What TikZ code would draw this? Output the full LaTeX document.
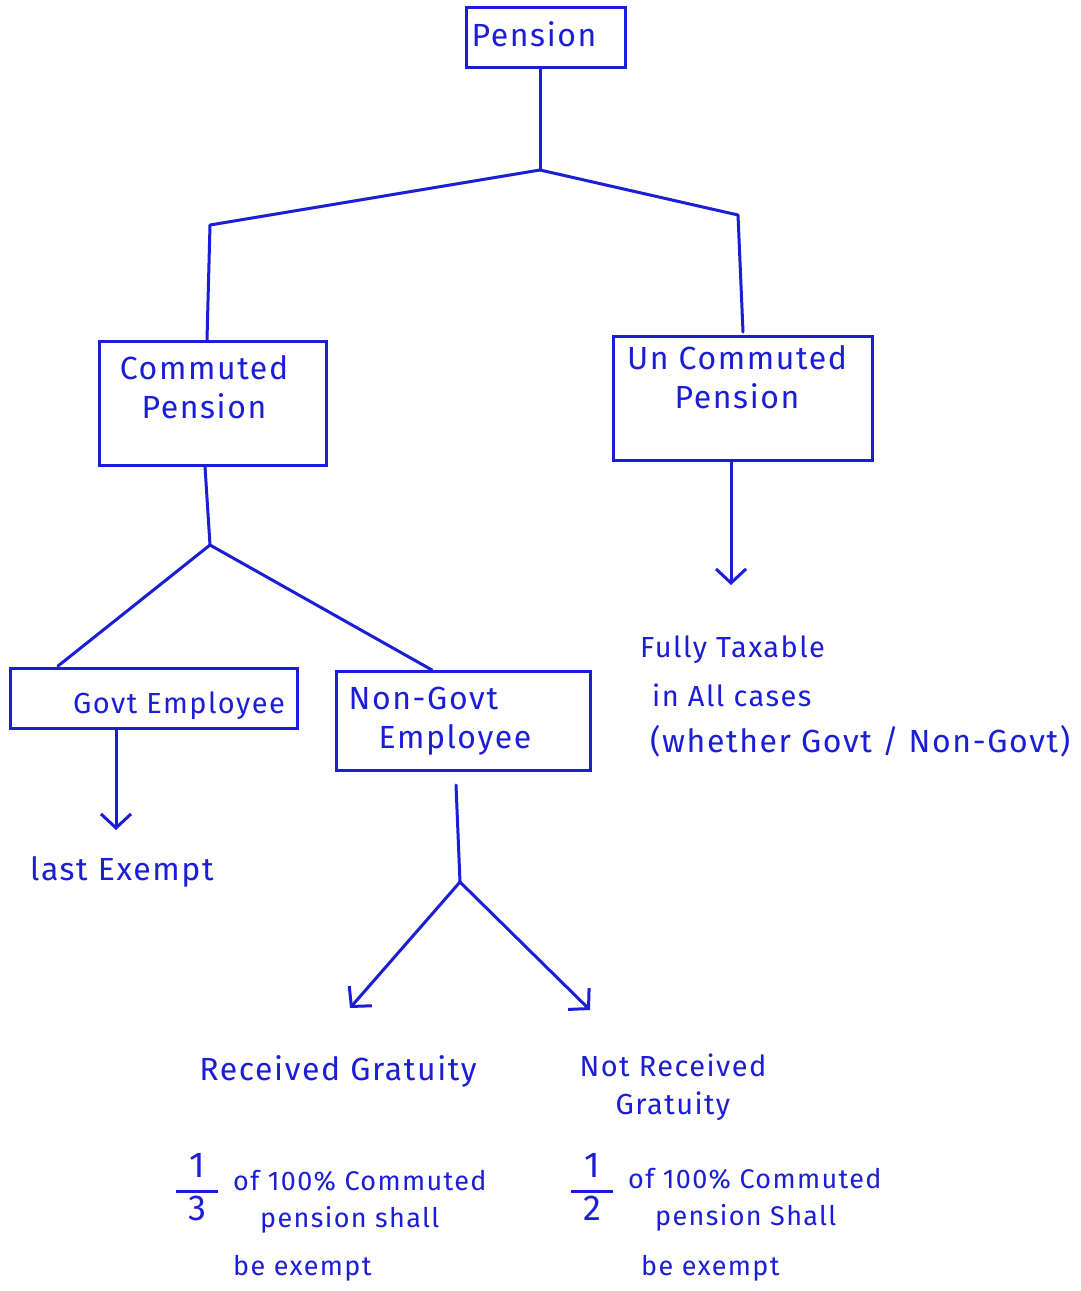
\documentclass[tikz,border=0pt]{standalone}
\usepackage{fontspec}
\setmainfont{Fira Sans}[LetterSpace=5]
\usetikzlibrary{arrows.meta}
\definecolor{ink}{RGB}{28,30,215}
\tikzset{
  box/.style={draw=ink, line width=3pt, rectangle, inner sep=0pt},
  lbl/.style={text=ink, font=\fontsize{32}{39}\selectfont, inner sep=0pt, align=center},
  lblm/.style={lbl, font=\fontsize{29}{38}\selectfont},
  lbll/.style={lbl, anchor=west, align=left},
  lblml/.style={lblm, anchor=west, align=left},
  lblsl/.style={lbl, font=\fontsize{27}{34}\selectfont, anchor=west, align=left},
  wire/.style={draw=ink, line width=3pt, line join=round, line cap=round},
  arr/.style={wire, -{Straight Barb[length=14pt, width=30pt]}}
}
\newcommand{\fracbox}[2]{{\fontsize{36}{40}\selectfont\setlength{\arrayrulewidth}{3pt}\renewcommand{\arraystretch}{1.0}%
  \begin{tabular}{@{\hspace{12pt}}c@{\hspace{12pt}}}#1\\\hline #2\end{tabular}}}
\begin{document}
\begin{tikzpicture}[x=1pt, y=-1pt]
\useasboundingbox[fill=white] (0,0) rectangle (1081,1291);

% boxes
\node[box, minimum width=159pt, minimum height=60pt] (pen) at (545.5,37) {};
\node[lbl] (penT) at (534,34) {Pension};

\node[box, minimum width=227pt, minimum height=124pt] (cp) at (212.5,403) {};
\node[lbl] (cpT) at (204,387) {Commuted\\Pension};

\node[box, minimum width=259pt, minimum height=124pt] (ucp) at (742.5,398) {};
\node[lbl] (ucpT) at (737,377) {Un Commuted\\Pension};

\node[box, minimum width=287pt, minimum height=60pt] (ge) at (153.5,698) {};
\node[lblm] (geT) at (179,706) {Govt Employee};

\node[box, minimum width=254pt, minimum height=99pt] (ng) at (463,720.5) {};
\node[lbl, align=left] (ngT) at (440,721) {Non-Govt\\\hspace{30pt}Employee};

% junctions
\coordinate (j1) at (540,170);
\coordinate (b1) at (210,225);
\coordinate (b2) at (738,215);
\coordinate (j2) at (210,545);
\coordinate (g1) at (58,666);
\coordinate (g2) at (432,670);
\coordinate (j3) at (460,882);
\coordinate (ngs) at (456,785);
\coordinate (fx) at (731,585);
\coordinate (le) at (116,830);
\coordinate (r1) at (350,1008);
\coordinate (r2) at (590,1010);

% connectors
\draw[wire] (pen.south -| j1) -- (j1);
\draw[wire] (j1) -- (b1) -- (cp.north -| 207,0);
\draw[wire] (j1) -- (b2) -- (743,332);
\draw[arr] (ucp.south -| fx) -- (fx);
\draw[wire] (cp.south -| 205,0) -- (j2);
\draw[wire] (j2) -- (g1);
\draw[wire] (j2) -- (g2);
\draw[arr] (ge.south -| le) -- (le);
\draw[wire] (ngs) -- (j3);
\draw[arr] (j3) -- (r1);
\draw[arr] (j3) -- (r2);

% texts
\node[lblml] (t1) at (640,650) {Fully Taxable};
\node[lblml] (t2) at (652,695) {in All cases};
\node[lbll] (t3) at (650,741) {(whether Govt / Non-Govt)};
\node[lbll] (t4) at (30,872) {last Exempt};

\node[lbl] (rg) at (338,1071) {Received Gratuity};
\node[lblm] (nrg) at (673,1087) {Not Received\\Gratuity};

\node[lbl] (f1) at (197,1191) {\fracbox{1}{3}};
\node[lblsl] (a1) at (233,1181) {of 100\% Commuted};
\node[lblsl] (a2) at (260,1220) {pension shall};
\node[lblsl] (a3) at (233,1268) {be exempt};

\node[lbl] (f2) at (592,1191) {\fracbox{1}{2}};
\node[lblsl] (b1t) at (628,1179) {of 100\% Commuted};
\node[lblsl] (b2t) at (655,1218) {pension Shall};
\node[lblsl] (b3t) at (641,1268) {be exempt};
\end{tikzpicture}
\end{document}
